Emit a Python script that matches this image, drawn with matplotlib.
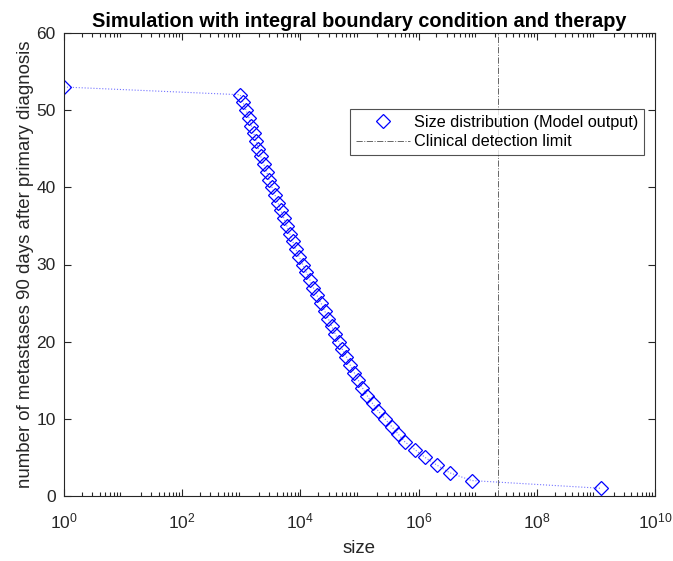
import numpy as np
import matplotlib
matplotlib.use("Agg")
import matplotlib.pyplot as plt
from matplotlib.lines import Line2D
from matplotlib.ticker import LogLocator, NullFormatter

plt.rcParams['font.family'] = ['Liberation Sans', 'DejaVu Sans']

# metastasis counts (y) and log10 of size (x)
counts = [53, 52, 51, 50, 49, 48, 47, 46, 45, 44, 43, 42, 41, 40, 39, 38, 37, 36,
          35, 34, 33, 32, 31, 30, 29, 28, 27, 26, 25, 24, 23, 22, 21, 20, 19, 18,
          17, 16, 15, 14, 13, 12, 11, 10, 9, 8, 7, 6, 5, 4, 3, 2, 1]
log_sizes = [0.0, 2.98, 3.03, 3.08, 3.13, 3.17, 3.21, 3.25, 3.29, 3.33, 3.38, 3.43,
             3.47, 3.52, 3.57, 3.62, 3.67, 3.72, 3.77, 3.82, 3.87, 3.92, 3.98, 4.04,
             4.10, 4.16, 4.22, 4.28, 4.35, 4.41, 4.47, 4.53, 4.59, 4.65, 4.71, 4.78,
             4.84, 4.91, 4.98, 5.05, 5.13, 5.22, 5.32, 5.43, 5.545, 5.657, 5.77, 5.94,
             6.11, 6.31, 6.53, 6.90, 9.09]
sizes = [10 ** v for v in log_sizes]
detection_limit = 2.2e7

title = "Simulation with integral boundary condition and therapy"
xlabel = "size"
ylabel = "number of metastases 90 days after primary diagnosis"
legend_labels = ["Size distribution (Model output)", "Clinical detection limit"]

fig = plt.figure(figsize=(6.73, 5.61), dpi=100)
ax = fig.add_axes([64 / 673, 1 - 496 / 561, 591 / 673, 463 / 561])

marker_kw = dict(marker='D', markersize=7, markerfacecolor='none',
                 markeredgecolor='blue', markeredgewidth=0.9)
line_col = (0.45, 0.45, 1.0)
ax.plot(sizes, counts, linestyle=':', color=line_col, linewidth=0.8, **marker_kw)
vcol = (0.4, 0.4, 0.4)
ax.axvline(detection_limit, color=vcol, linestyle='-.', linewidth=0.7)

ax.set_xscale('log')
ax.set_xlim(1, 1e10)
ax.set_ylim(0, 60)
ax.set_xticks([1, 1e2, 1e4, 1e6, 1e8, 1e10])
ax.xaxis.set_minor_locator(LogLocator(base=10, subs=np.arange(2, 10), numticks=100))
ax.xaxis.set_minor_formatter(NullFormatter())
ax.set_yticks([0, 10, 20, 30, 40, 50, 60])

axis_col = (0.15, 0.15, 0.15)
for s in ax.spines.values():
    s.set_color(axis_col)
    s.set_linewidth(0.8)
ax.tick_params(which='both', direction='in', top=True, right=True, colors=axis_col,
               labelsize=12.5, width=0.8)
ax.tick_params(axis='x', which='major', pad=11)
ax.tick_params(axis='y', which='major', pad=6)
ax.tick_params(which='major', length=5)
ax.tick_params(which='minor', length=3)
for lab in ax.get_xticklabels() + ax.get_yticklabels():
    lab.set_color(axis_col)

ax.set_title(title, fontsize=14.3, fontweight='bold', pad=4)
ax.set_xlabel(xlabel, fontsize=13.5, color=axis_col, labelpad=6)
ax.set_ylabel(ylabel, fontsize=13.4, color=axis_col, labelpad=2)

handles = [Line2D([], [], linestyle='none', **marker_kw),
           Line2D([], [], color=vcol, linestyle='-.', linewidth=0.7)]
leg = ax.legend(handles, legend_labels, loc='upper right',
                bbox_to_anchor=(0.981, 0.836), borderaxespad=0, numpoints=1,
                fontsize=11.7, frameon=True, fancybox=False, edgecolor=axis_col,
                handlelength=3.3, handletextpad=0.25, borderpad=0.35,
                labelspacing=0.3)
leg.get_frame().set_linewidth(0.8)

fig.savefig("out.png", dpi=100)
